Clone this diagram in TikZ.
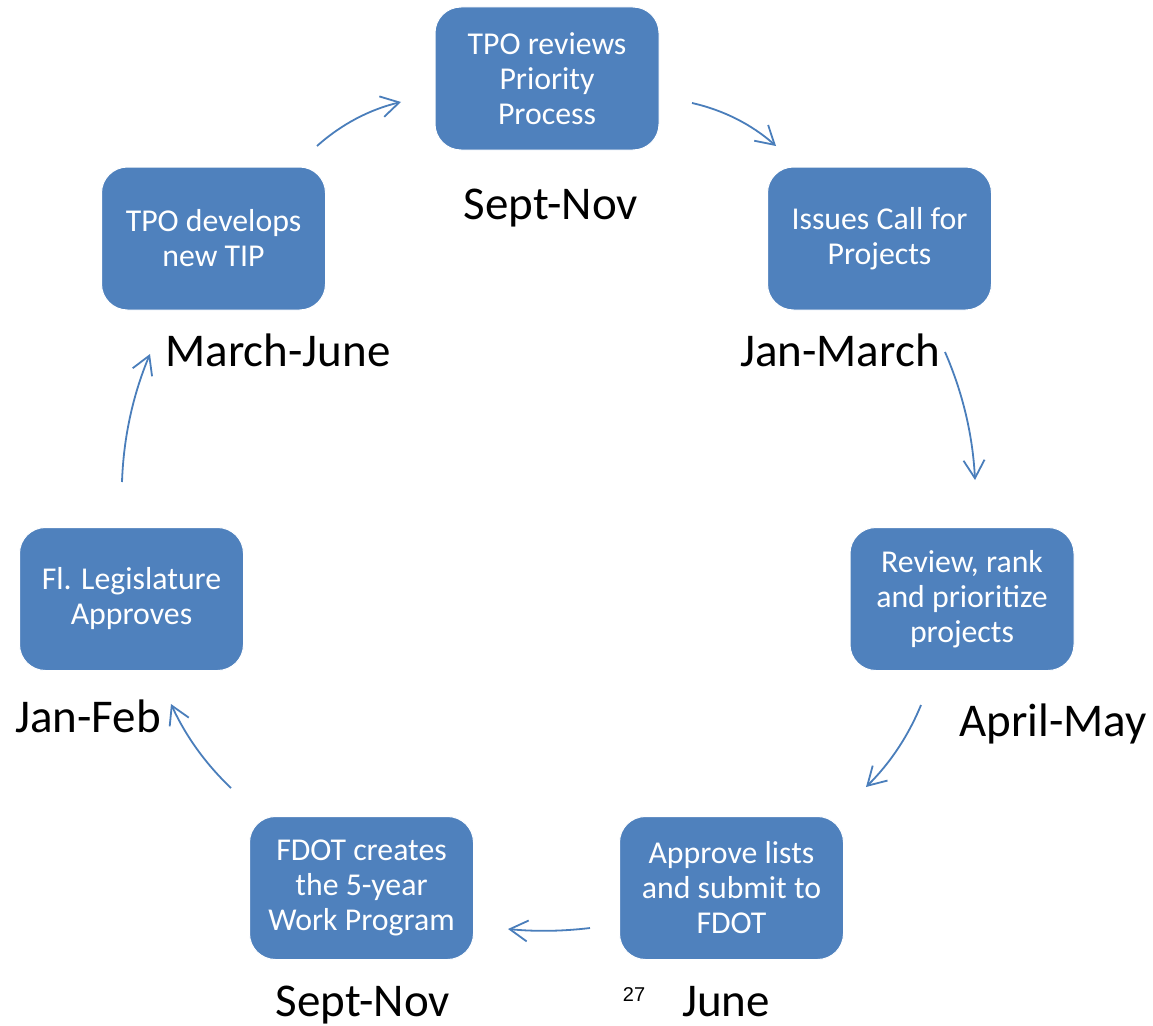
\documentclass[tikz,border=0pt]{standalone}
\usepackage{fontspec}
\setmainfont{Carlito}
\newfontfamily\arialfont{Liberation Sans}
\usetikzlibrary{arrows.meta}
\definecolor{boxblue}{HTML}{4F81BD}
\definecolor{arrowblue}{HTML}{4A7EBB}
\begin{document}
\begin{tikzpicture}[x=1pt,y=-1pt,
  stage/.style={draw=white, line width=1pt, fill=boxblue, rounded corners=26pt,
    minimum width=224pt, minimum height=143pt, text=white, align=center,
    font=\fontsize{31.8}{35}\selectfont, inner sep=0pt},
  period/.style={anchor=base, text=black, font=\fontsize{47}{50}\selectfont, inner sep=0pt},
  flow/.style={draw=arrowblue, line width=1.8pt,
    -{Straight Barb[length=18pt,width=21pt,line width=1.8pt]}}]
\useasboundingbox (0,0) rectangle (1153,1025);
% boxes
\node[stage] (s1) at (547,78.5) {TPO reviews\\Priority\\Process};
\node[stage] (s2) at (879.5,238.5) {Issues Call for\\Projects};
\node[stage] (s3) at (962,599) {Review, rank\\and prioritize\\projects};
\node[stage] (s4) at (731.5,888) {Approve lists\\and submit to\\FDOT};
\node[stage] (s5) at (361.5,888) {FDOT creates\\the 5-year\\Work Program};
\node[stage] (s6) at (131.5,599) {Fl. Legislature\\Approves};
\node[stage] (s7) at (213.5,238.5) {TPO develops\\new TIP};
% period labels
\node[period] (p1) at (551,219) {Sept-Nov};
\node[period] (p2) at (840,366) {Jan-March};
\node[period] (p3) at (1053,736) {April-May};
\node[period] (p4) at (726,1016) {June};
\node[period] (p5) at (363,1016) {Sept-Nov};
\node[period] (p6) at (88,732) {Jan-Feb};
\node[period] (p7) at (278,366) {March-June};
\node[anchor=base, inner sep=0pt, font=\arialfont\fontsize{20}{22}\selectfont] (pg) at (634,1001) {27};
% arrow end points
\coordinate (a1s) at (317,146); \coordinate (a1e) at (401,102);
\coordinate (a2s) at (692,103); \coordinate (a2e) at (776,146);
\coordinate (a3s) at (945,352); \coordinate (a3e) at (975,480);
\coordinate (a4s) at (921,705); \coordinate (a4e) at (866,787);
\coordinate (a5s) at (590,928); \coordinate (a5e) at (508,929);
\coordinate (a6s) at (231,788); \coordinate (a6e) at (171,704);
\coordinate (a7s) at (122,482); \coordinate (a7e) at (150,354);
% arrows
\draw[flow] (a1s) .. controls (341.3,124.3) and (369.3,109.6) .. (a1e);
\draw[flow] (a2s) .. controls (723.7,110.2) and (751.7,124.5) .. (a2e);
\draw[flow] (a3s) .. controls (962.8,392.9) and (972.8,435.5) .. (a3e);
\draw[flow] (a4s) .. controls (908.2,736.1) and (889.9,763.4) .. (a4e);
\draw[flow] (a5s) .. controls (562.7,931.3) and (535.3,931.7) .. (a5e);
\draw[flow] (a6s) .. controls (205.6,763.9) and (185.6,735.9) .. (a6e);
\draw[flow] (a7s) .. controls (123.5,437.6) and (132.9,394.9) .. (a7e);
\end{tikzpicture}
\end{document}
